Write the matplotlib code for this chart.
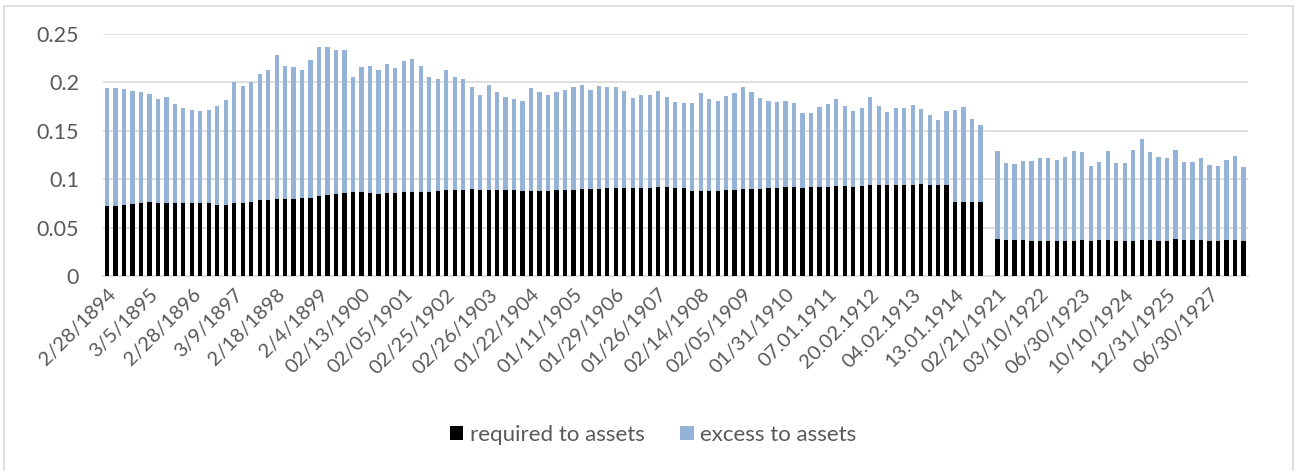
import numpy as np
import matplotlib.pyplot as plt

# one slot per observation, every 5th slot gets a date label; slot 104 is empty (gap 1914 -> 1921)
tick_labels = ["2/28/1894", "3/5/1895", "2/28/1896", "3/9/1897", "2/18/1898", "2/4/1899",
               "02/13/1900", "02/05/1901", "02/25/1902", "02/26/1903", "01/22/1904",
               "01/11/1905", "01/29/1906", "01/26/1907", "02/14/1908", "02/05/1909",
               "01/31/1910", "07.01.1911", "20.02.1912", "04.02.1913", "13.01.1914",
               "02/21/1921", "03/10/1922", "06/30/1923", "10/10/1924", "12/31/1925",
               "06/30/1927"]

required = [0.072, 0.072, 0.073, 0.074, 0.075, 0.076, 0.075, 0.075, 0.075, 0.075,
            0.075, 0.075, 0.075, 0.073, 0.073, 0.075, 0.075, 0.076, 0.078, 0.078,
            0.080, 0.080, 0.080, 0.081, 0.081, 0.083, 0.084, 0.085, 0.086, 0.087,
            0.087, 0.086, 0.085, 0.086, 0.086, 0.087, 0.087, 0.087, 0.087, 0.088,
            0.089, 0.089, 0.089, 0.090, 0.089, 0.089, 0.089, 0.089, 0.089, 0.088,
            0.088, 0.088, 0.088, 0.089, 0.089, 0.089, 0.090, 0.090, 0.090, 0.091,
            0.091, 0.091, 0.091, 0.091, 0.091, 0.092, 0.092, 0.091, 0.091, 0.088,
            0.088, 0.088, 0.088, 0.089, 0.089, 0.090, 0.090, 0.090, 0.091, 0.091,
            0.092, 0.092, 0.091, 0.092, 0.092, 0.092, 0.093, 0.093, 0.092, 0.093,
            0.094, 0.094, 0.094, 0.094, 0.094, 0.094, 0.095, 0.094, 0.094, 0.094,
            0.076, 0.076, 0.076, 0.076, None, 0.038, 0.037, 0.037, 0.037, 0.036,
            0.036, 0.036, 0.036, 0.036, 0.036, 0.037, 0.036, 0.037, 0.037, 0.036,
            0.036, 0.036, 0.037, 0.037, 0.036, 0.036, 0.038, 0.037, 0.037, 0.037,
            0.036, 0.036, 0.037, 0.037, 0.036]

excess = [0.122, 0.122, 0.120, 0.117, 0.115, 0.112, 0.108, 0.110, 0.103, 0.098,
          0.096, 0.095, 0.096, 0.103, 0.109, 0.125, 0.121, 0.124, 0.131, 0.135,
          0.148, 0.137, 0.136, 0.132, 0.142, 0.154, 0.152, 0.148, 0.147, 0.119,
          0.129, 0.131, 0.128, 0.133, 0.129, 0.135, 0.137, 0.130, 0.119, 0.115,
          0.124, 0.117, 0.114, 0.105, 0.098, 0.108, 0.101, 0.096, 0.094, 0.093,
          0.106, 0.102, 0.099, 0.101, 0.103, 0.106, 0.107, 0.102, 0.106, 0.104,
          0.104, 0.100, 0.093, 0.096, 0.096, 0.099, 0.093, 0.089, 0.088, 0.091,
          0.101, 0.095, 0.093, 0.097, 0.100, 0.105, 0.100, 0.094, 0.090, 0.089,
          0.089, 0.087, 0.077, 0.076, 0.083, 0.086, 0.090, 0.083, 0.078, 0.081,
          0.091, 0.082, 0.075, 0.079, 0.079, 0.083, 0.077, 0.072, 0.067, 0.076,
          0.095, 0.099, 0.086, 0.080, None, 0.091, 0.080, 0.079, 0.082, 0.083,
          0.086, 0.086, 0.084, 0.087, 0.093, 0.091, 0.078, 0.081, 0.092, 0.081,
          0.081, 0.094, 0.104, 0.091, 0.087, 0.086, 0.092, 0.081, 0.081, 0.085,
          0.079, 0.078, 0.083, 0.087, 0.077]

req = np.array(required, dtype=float)
exc = np.array(excess, dtype=float)
x = np.arange(len(req))

plt.rcParams['font.family'] = ['Lato', 'DejaVu Sans']
grey_text = '#595959'

fig = plt.figure(figsize=(13.01, 4.71), dpi=100)
ax = fig.add_axes([0.079, 0.414, 0.88, 0.514])

ax.bar(x, req, width=0.5, color='black', label='required to assets', zorder=3)
ax.bar(x, exc, width=0.5, bottom=req, color='#95B3D7', label='excess to assets', zorder=3)

ax.set_xlim(-0.5, len(req) - 0.5)
ax.set_ylim(0, 0.25)
ax.set_yticks([0, 0.05, 0.1, 0.15, 0.2, 0.25])
ax.set_yticklabels(['0', '0.05', '0.1', '0.15', '0.2', '0.25'])
ax.yaxis.grid(True, color='#D9D9D9', linewidth=1.2, zorder=0)

ax.set_xticks(x[::5])
ax.set_xticklabels(tick_labels, rotation=45, ha='right', rotation_mode='anchor')

for s in ['top', 'right', 'left']:
    ax.spines[s].set_visible(False)
ax.spines['bottom'].set_color('#D9D9D9')
ax.spines['bottom'].set_linewidth(1.2)
ax.tick_params(axis='both', length=0, colors=grey_text)
ax.tick_params(axis='y', labelsize=15.5, pad=17)
ax.tick_params(axis='x', labelsize=14.5, pad=7)

leg = fig.legend(loc='center', bbox_to_anchor=(0.502, 0.076), ncol=2, frameon=False,
                 fontsize=16, handlelength=0.6, handleheight=0.6, handletextpad=0.3,
                 columnspacing=1.6)
for t in leg.get_texts():
    t.set_color(grey_text)

# chart border
fig.patches.append(plt.Rectangle((4 / 1301, -0.01), 1289 / 1301, 1 - 6 / 471 + 0.01,
                                 transform=fig.transFigure, fill=False,
                                 edgecolor='#D9D9D9', linewidth=1.2))

fig.savefig('out.png', dpi=100)
